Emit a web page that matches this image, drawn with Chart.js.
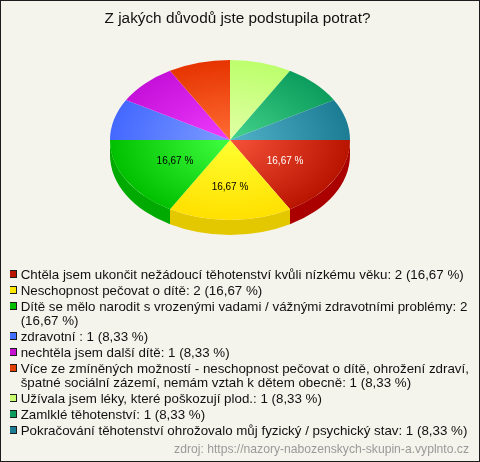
<!DOCTYPE html>
<html>
<head>
  <meta charset="utf-8">
  <title>Z jakých důvodů jste podstupila potrat?</title>
  <script src="https://cdn.jsdelivr.net/npm/chart.js"></script>
  <style>
    html, body { margin: 0; padding: 0; background: #f5f4ec; }
    #wrap { width: 480px; height: 462px; position: relative; }
    canvas { display: block; outline: 1px solid #1c1c1c; outline-offset: -1px; }
  </style>
</head>
<body>
  <div id="wrap"><canvas id="pie" width="480" height="462"></canvas></div>

  <script>
    const categories = [
      "Chtěla jsem ukončit nežádoucí těhotenství kvůli nízkému věku",
      "Neschopnost pečovat o dítě",
      "Dítě se mělo narodit s vrozenými vadami / vážnými zdravotními problémy",
      "zdravotní ",
      "nechtěla jsem další dítě",
      "Více ze zmíněných možností - neschopnost pečovat o dítě, ohrožení zdraví, špatné sociální zázemí, nemám vztah k dětem obecně",
      "Užívala jsem léky, které poškozují plod.",
      "Zamlklé těhotenství",
      "Pokračování těhotenství ohrožovalo můj fyzický / psychický stav"
    ];
    const values = [2, 2, 2, 1, 1, 1, 1, 1, 1];
    const percents = ["16,67 %", "16,67 %", "16,67 %", "8,33 %", "8,33 %", "8,33 %", "8,33 %", "8,33 %", "8,33 %"];
    const legendLines = [
      ["Chtěla jsem ukončit nežádoucí těhotenství kvůli nízkému věku: 2 (16,67 %)"],
      ["Neschopnost pečovat o dítě: 2 (16,67 %)"],
      ["Dítě se mělo narodit s vrozenými vadami / vážnými zdravotními problémy: 2", "(16,67 %)"],
      ["zdravotní : 1 (8,33 %)"],
      ["nechtěla jsem další dítě: 1 (8,33 %)"],
      ["Více ze zmíněných možností - neschopnost pečovat o dítě, ohrožení zdraví,", "špatné sociální zázemí, nemám vztah k dětem obecně: 1 (8,33 %)"],
      ["Užívala jsem léky, které poškozují plod.: 1 (8,33 %)"],
      ["Zamlklé těhotenství: 1 (8,33 %)"],
      ["Pokračování těhotenství ohrožovalo můj fyzický / psychický stav: 1 (8,33 %)"]
    ];
    const titleText = "Z jakých důvodů jste podstupila potrat?";
    const sourceText = "zdroj: https://nazory-nabozenskych-skupin-a.vyplnto.cz";

    // colours: centre of slice, rim of slice, side wall, legend swatch
    const innerColors = ["#f7533a", "#ffff30", "#40ff40", "#7c9cff", "#f03cff", "#ff6c34", "#e2ffa6", "#44d48c", "#52b2ca"];
    const outerColors = ["#b81400", "#ffe000", "#00c000", "#4468ff", "#c410d8", "#e63400", "#bcff6c", "#0c9c5c", "#1c7c94"];
    const sideColors = ["#aa0000", "#e3c800", "#00aa00"];
    const swatchColors = ["#b81400", "#ffe800", "#00c000", "#4470ff", "#c410d0", "#e04000", "#c8ff70", "#0c9c5c", "#1c7c94"];
    const labelColors = ["#ffffff", "#000000", "#000000"];
    const labelFrac = [0.53, 0.59, 0.53];

    const squash = 2 / 3;
    const depth = 15;

    // taller than the square so the square sits 1px above the text's middle
    const swatch = (color) => {
      const c = document.createElement("canvas");
      c.width = 8;
      c.height = 10;
      const g = c.getContext("2d");
      g.fillStyle = "#1c1c1c";
      g.fillRect(0, 0, 8, 8);
      g.fillStyle = color;
      g.fillRect(1, 1, 6, 6);
      return c;
    };

    const sliceFill = (context) => {
      const area = context.chart.chartArea;
      if (!area) return outerColors[context.dataIndex];
      const cx = (area.left + area.right) / 2;
      const cy = (area.top + area.bottom) / 2;
      const grad = context.chart.ctx.createRadialGradient(cx, cy, 0, cx, cy, area.width / 2);
      grad.addColorStop(0, innerColors[context.dataIndex]);
      grad.addColorStop(1, outerColors[context.dataIndex]);
      return grad;
    };

    const piePlugin = {
      id: "pie3d",
      beforeDraw(chart) {
        chart.ctx.imageSmoothingEnabled = false;
      },
      afterLayout(chart) {
        // title and legend do not follow the pie's padding
        const title = chart.titleBlock;
        title.left = 0;
        title.right = 475;
        title.top += 8;
        title.bottom += 8;
        const legend = chart.legend;
        legend.left = 10;
        legend.right = 478;
        legend.top = 266.335;
        legend.bottom = 462;
      },
      beforeDatasetsDraw(chart) {
        const ctx = chart.ctx;
        const arcs = chart.getDatasetMeta(0).data;
        ctx.save();
        arcs.forEach((arc, i) => {
          const start = Math.max(arc.startAngle, 0);
          const end = Math.min(arc.endAngle, Math.PI);
          if (end <= start) return;
          const r = arc.outerRadius;
          ctx.beginPath();
          ctx.ellipse(arc.x, arc.y, r, r * squash, 0, start, end);
          ctx.ellipse(arc.x, arc.y + depth, r, r * squash, 0, end, start, true);
          ctx.closePath();
          ctx.fillStyle = sideColors[i];
          ctx.fill();
        });
        const cy = arcs[0].y;
        ctx.translate(0, cy);
        ctx.scale(1, squash);
        ctx.translate(0, -cy);
      },
      afterDatasetsDraw(chart) {
        const ctx = chart.ctx;
        ctx.restore();
        ctx.save();
        ctx.font = "10px 'Liberation Sans'";
        ctx.textAlign = "center";
        ctx.textBaseline = "middle";
        chart.getDatasetMeta(0).data.forEach((arc, i) => {
          if (values[i] < 2) return;
          const mid = (arc.startAngle + arc.endAngle) / 2;
          const r = arc.outerRadius * labelFrac[i];
          ctx.fillStyle = labelColors[i];
          ctx.fillText(percents[i], arc.x + Math.cos(mid) * r, arc.y + Math.sin(mid) * r * squash);
        });
        ctx.restore();
      },
      afterDraw(chart) {
        const ctx = chart.ctx;
        ctx.save();
        ctx.font = "12.15px 'Liberation Sans'";
        ctx.textAlign = "right";
        ctx.textBaseline = "middle";
        ctx.fillStyle = "#9a9a9a";
        ctx.fillText(sourceText, 469, 450);
        ctx.restore();
      }
    };

    new Chart(document.getElementById("pie"), {
      type: "pie",
      data: {
        labels: categories,
        datasets: [{
          data: values,
          backgroundColor: sliceFill,
          borderWidth: 0
        }]
      },
      plugins: [piePlugin],
      options: {
        responsive: false,
        animation: false,
        rotation: 90,
        layout: { padding: { left: 110, right: 130, top: 2, bottom: 202 } },
        plugins: {
          tooltip: { enabled: false },
          title: {
            display: true,
            text: titleText,
            color: "#111111",
            padding: 0,
            font: { family: "'Liberation Sans'", size: 15.33, weight: "normal", lineHeight: "18px" }
          },
          legend: {
            position: "chartArea",
            align: "start",
            labels: {
              color: "#111111",
              font: { family: "'Liberation Sans'", size: 13.33, lineHeight: "14px" },
              boxWidth: 2,
              padding: 2,
              usePointStyle: true,
              generateLabels: () => legendLines.map((lines, i) => ({
                text: lines,
                pointStyle: swatch(swatchColors[i]),
                fillStyle: swatchColors[i],
                strokeStyle: "#1c1c1c",
                lineWidth: 1,
                fontColor: "#111111",
                index: i
              }))
            }
          }
        }
      }
    });
  </script>
</body>
</html>
